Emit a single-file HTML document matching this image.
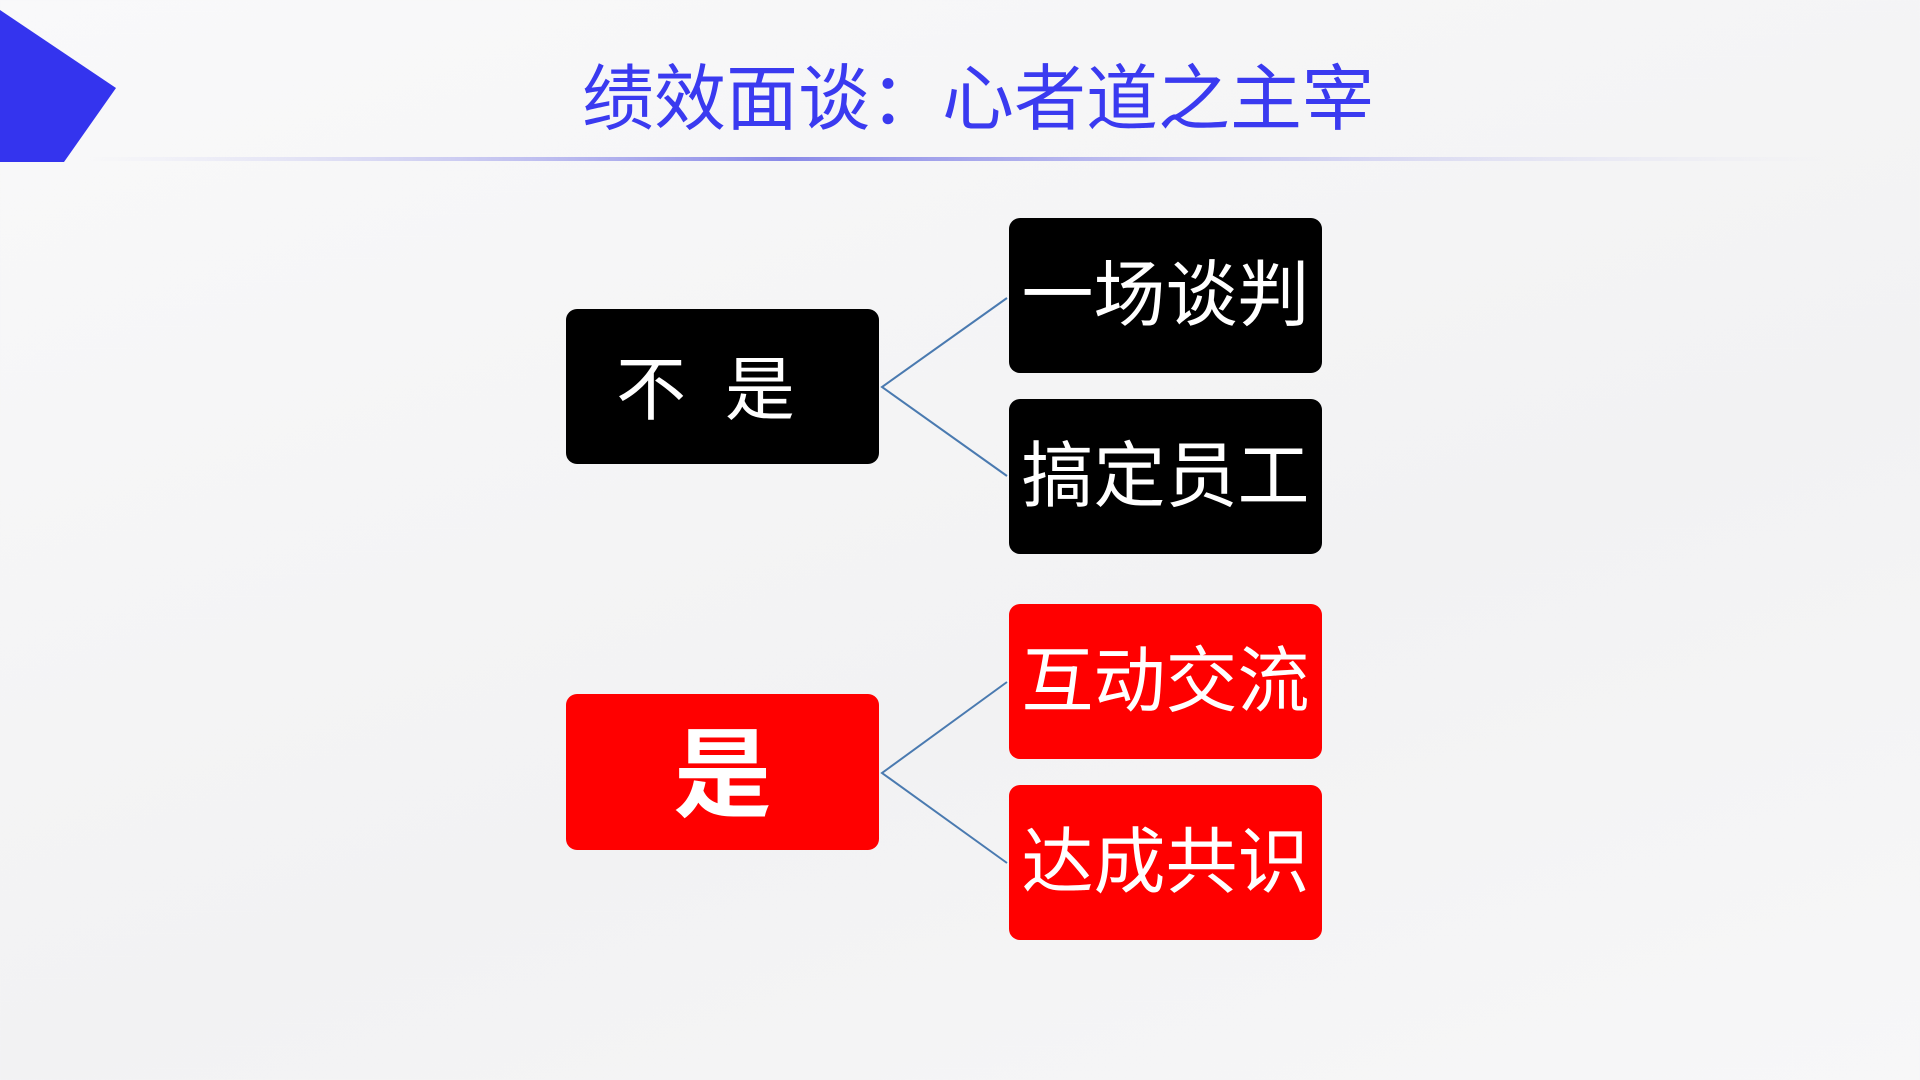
<!DOCTYPE html>
<html><head><meta charset="utf-8"><style>
body{margin:0;width:1920px;height:1080px;overflow:hidden;background:linear-gradient(160deg,#f9f9fa,#f2f2f3 60%,#f7f7f8);position:relative;font-family:"Liberation Sans","Noto Sans CJK SC",sans-serif}
.t{position:absolute;left:18px;width:1920px;top:52px;text-align:center;font-size:72px;color:#3a3af0;letter-spacing:0;line-height:96px;white-space:nowrap}
.b{position:absolute;border-radius:11px;color:#fff;display:flex;align-items:center;justify-content:center;line-height:1}
.k{background:#000}.r{background:#ff0000}
.s{font-size:72px;width:313px;height:155px;left:1009px}
</style></head><body>
<svg width="1920" height="1080" style="position:absolute;left:0;top:0">
<defs><linearGradient id="g" x1="0" x2="1"><stop offset="0" stop-color="#c8c8f0" stop-opacity="0"/><stop offset="0.4" stop-color="#8a8ae8"/><stop offset="1" stop-color="#d0d0f0" stop-opacity="0"/></linearGradient></defs>
<polygon points="0,10 116,88 64,162 0,162" fill="#3434ee"/>
<rect x="86" y="157" width="1740" height="4" fill="url(#g)"/>
<g stroke="#4a7ab0" stroke-width="2" fill="none">
<polyline points="1007,298 882,387 1007,476"/>
<polyline points="1007,682 882,773 1007,863"/>
</g></svg>
<div class="t">绩效面谈：心者道之主宰</div>
<div class="b k" style="left:566px;top:309px;width:313px;height:155px;font-size:70px;justify-content:flex-start;padding-left:50px;box-sizing:border-box;padding-top:6px">不&nbsp;&nbsp;是</div>
<div class="b r" style="left:566px;top:694px;width:313px;height:156px;font-size:98px;font-weight:bold;padding-top:6px;box-sizing:border-box">是</div>
<div class="b k s" style="top:218px">一场谈判</div>
<div class="b k s" style="top:399px">搞定员工</div>
<div class="b r s" style="top:604px">互动交流</div>
<div class="b r s" style="top:785px">达成共识</div>
</body></html>
